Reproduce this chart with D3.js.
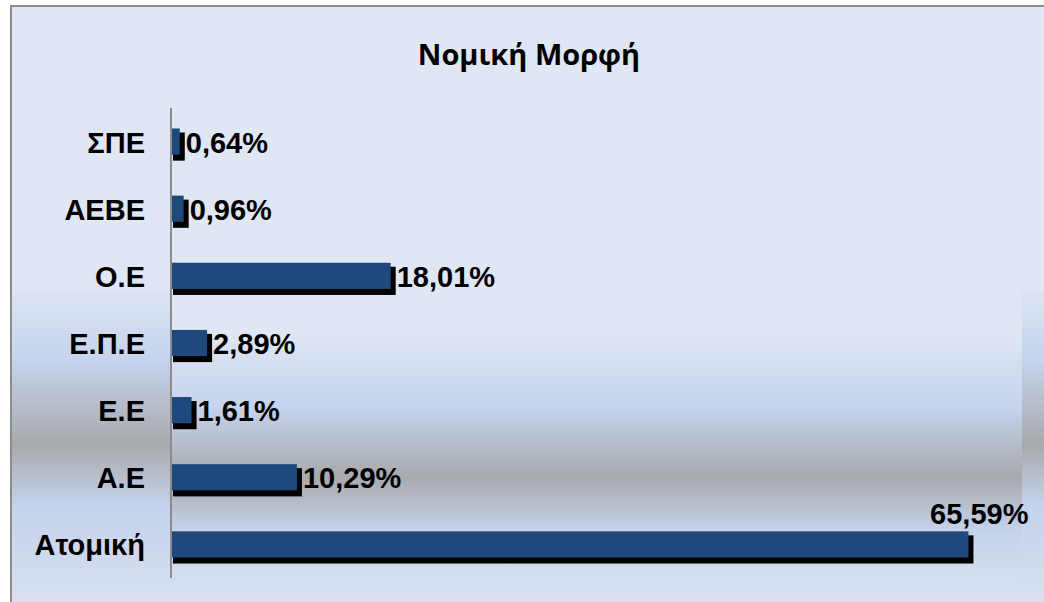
<!DOCTYPE html>
<html lang="el">
<head>
<meta charset="UTF-8">
<title>Νομική Μορφή</title>
<script src="https://d3js.org/d3.v7.min.js"></script>
<style>
  body { margin: 0; padding: 0; background: #ffffff; }
  svg { display: block; }
  .cat, .val { font-family: 'Liberation Sans', Arial, sans-serif; font-weight: bold; font-size: 29px; fill: #000; }
  .title { font-family: 'Open Sans', sans-serif; font-weight: bold; fill: #000; }
</style>
</head>
<body>
<svg width="1044" height="602"></svg>
<script>
// chart data (top to bottom as shown)
var categories = ["ΣΠΕ", "ΑΕΒΕ", "Ο.Ε", "Ε.Π.Ε", "Ε.Ε", "Α.Ε", "Ατομική"];
var values = [0.64, 0.96, 18.01, 2.89, 1.61, 10.29, 65.59];
var xDomain = [0, 70];
var titleText = "Νομική Μορφή";

var svg = d3.select("svg");
var W = 1044, H = 602;

// plot area box
var plot = {left: 172, right: 1022, top: 108, bottom: 578};

var defs = svg.append("defs");

function addGradient(id, stops) {
    var g = defs.append("linearGradient")
        .attr("id", id)
        .attr("gradientUnits", "userSpaceOnUse")
        .attr("x1", 0).attr("x2", 0)
        .attr("y1", 0).attr("y2", H);
    stops.forEach(function(s) {
        g.append("stop").attr("offset", s[0] / H).attr("stop-color", s[1]);
    });
}

addGradient("outerGrad", [
    [6, "#dfe6f4"], [285, "#dfe6f4"], [360, "#c5d3ed"],
    [445, "#a8a9ac"], [505, "#c5d2eb"], [602, "#d8e0f1"]
]);
addGradient("plotGrad", [
    [108, "#dfe6f4"], [335, "#dfe6f4"], [407, "#c5d3ed"],
    [477, "#a8a9ac"], [530, "#c5d2eb"], [578, "#d6dff1"]
]);

// chart area with border (extends past the right / bottom edge)
svg.append("rect")
    .attr("x", 11).attr("y", 6)
    .attr("width", W + 20).attr("height", H + 20)
    .attr("fill", "url(#outerGrad)")
    .attr("stroke", "#8c8c8c")
    .attr("stroke-width", 2);

// plot area
svg.append("rect")
    .attr("x", plot.left).attr("y", plot.top)
    .attr("width", plot.right - plot.left)
    .attr("height", plot.bottom - plot.top)
    .attr("fill", "url(#plotGrad)");

var x = d3.scaleLinear().domain(xDomain).range([plot.left, plot.right]);
var y = d3.scaleBand().domain(categories).range([plot.top, plot.bottom]).paddingInner(0.61).paddingOuter(0.305);

var fmt = d3.formatLocale({decimal: ",", thousands: ".", grouping: [3], currency: ["", "€"]}).format(".2f");

var rows = categories.map(function(c, i) { return {cat: c, val: values[i]}; });

// shadows
svg.append("g").selectAll("rect")
    .data(rows)
    .join("rect")
    .attr("x", x(0) + 1)
    .attr("y", function(d) { return y(d.cat) + 4; })
    .attr("width", function(d) { return x(d.val) - x(0) + 4; })
    .attr("height", y.bandwidth() + 2)
    .attr("fill", "#000");

// bars
svg.append("g").selectAll("rect")
    .data(rows)
    .join("rect")
    .attr("x", x(0))
    .attr("y", function(d) { return y(d.cat); })
    .attr("width", function(d) { return x(d.val) - x(0); })
    .attr("height", y.bandwidth())
    .attr("fill", "#1f497d");

// category axis
var yAxis = svg.append("g")
    .attr("transform", "translate(" + (plot.left - 1) + ",0)")
    .call(d3.axisLeft(y).tickSize(0).tickPadding(26));
yAxis.select(".domain").attr("stroke", "#8c8c8c").attr("stroke-width", 2)
    .attr("d", "M0," + plot.top + "V" + plot.bottom);
yAxis.selectAll("text")
    .attr("class", "cat")
    .attr("font-size", null).attr("font-family", null)
    .attr("dy", "0.38em");

// value labels
svg.append("g").selectAll("text")
    .data(rows)
    .join("text")
    .attr("class", "val")
    .text(function(d) { return fmt(d.val) + "%"; })
    .each(function(d) {
        var t = d3.select(this);
        var w = this.getComputedTextLength();
        var cy = y(d.cat) + y.bandwidth() / 2;
        if (x(d.val) + 7 + w > plot.right) {
            t.attr("text-anchor", "end")
             .attr("x", x(d.val) + 60)
             .attr("y", y(d.cat) - 7);
        } else {
            t.attr("x", x(d.val) + 6)
             .attr("y", cy)
             .attr("dy", "0.38em");
        }
    });

// title
var title = svg.append("text")
    .attr("class", "title")
    .attr("x", 529).attr("y", 65)
    .attr("text-anchor", "middle")
    .style("font-size", "28px")
    .text(titleText);
var tw = title.node().getComputedTextLength();
title.style("font-size", (28 * 222 / tw).toFixed(1) + "px");
</script>
</body>
</html>
